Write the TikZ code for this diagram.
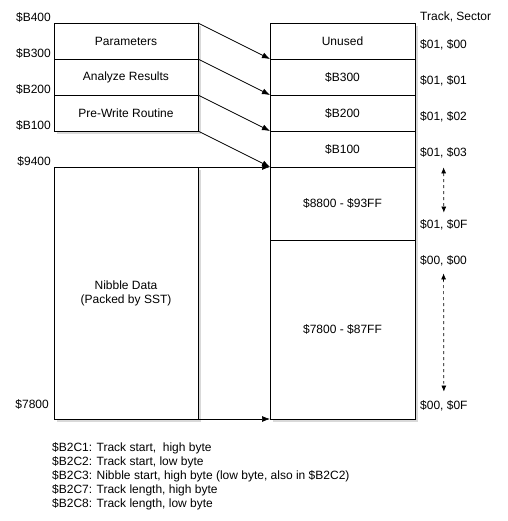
\documentclass[tikz,border=0pt]{standalone}
\usepackage{fontspec}
\setmainfont{Liberation Sans}
\usepackage{tikz}
\usetikzlibrary{arrows, arrows.meta, positioning, shadows}

\tikzset{
  blk/.style={draw, line width=0.9pt, fill=white, rectangle, inner sep=0pt, outer sep=0pt,
    minimum height=36pt, align=center,
    drop shadow={opacity=0.3, shadow xshift=3pt, shadow yshift=-3pt}},
  lblk/.style={blk, minimum width=144pt},
  rblk/.style={blk, minimum width=145pt},
  addr/.style={inner sep=0pt, anchor=east},
  ts/.style={inner sep=0pt, anchor=west},
  lnk/.style={-{Latex[length=8pt, width=6pt]}, line width=0.7pt},
  span/.style={{Latex[length=6pt, width=5pt]}-{Latex[length=6pt, width=5pt]}, dashed, line width=0.7pt},
}

\begin{document}
\fontsize{12}{14}\selectfont
\begin{tikzpicture}[x=1pt, y=-1pt]
      \useasboundingbox (0,0) rectangle (507,521);

      %% left column
      \node (params) at (126,41) [lblk] {Parameters};
      \node (analyze) [lblk, below=0pt of params] {Analyze Results};
      \node (prewrite) [lblk, below=0pt of analyze] {Pre-Write Routine};
      \node (nibble) [lblk, minimum height=252pt, below=36pt of prewrite] {Nibble Data\\(Packed by SST)};

      %% right column
      \node (unused) at (342.5,41) [rblk] {Unused};
      \node (sb300) [rblk, below=0pt of unused] {\$B300};
      \node (sb200) [rblk, below=0pt of sb300] {\$B200};
      \node (sb100) [rblk, below=0pt of sb200] {\$B100};
      \node (s8800) [rblk, minimum height=73pt, below=0pt of sb100] {\$8800 - \$93FF};
      \node (s7800) [rblk, minimum height=179pt, below=0pt of s8800] {\$7800 - \$87FF};

      %% addresses
      \node (aB400) at (51,17) [addr] {\$B400};
      \node (aB300) at (51,53) [addr] {\$B300};
      \node (aB200) at (51,89) [addr] {\$B200};
      \node (aB100) at (51,125) [addr] {\$B100};
      \node (a9400) at (51,161) [addr] {\$9400};
      \node (a7800) at (49,404) [addr] {\$7800};

      %% track, sector
      \node (tshead) at (420,17) [ts] {Track, Sector};
      \node (t0100) at (420,45) [ts] {\$01, \$00};
      \node (t0101) at (420,81) [ts] {\$01, \$01};
      \node (t0102) at (420,117) [ts] {\$01, \$02};
      \node (t0103) at (420,153) [ts] {\$01, \$03};
      \node (t010F) at (420,225) [ts] {\$01, \$0F};
      \node (t0000) at (420,261) [ts] {\$00, \$00};
      \node (t000F) at (420,406) [ts] {\$00, \$0F};

      \node (notes) at (52,442) [inner sep=0pt, anchor=north west, align=left]
        {\$B2C1: Track start,\ \ high byte\\
         \$B2C2: Track start, low byte\\
         \$B2C3: Nibble start, high byte (low byte, also in \$B2C2)\\
         \$B2C7: Track length, high byte\\
         \$B2C8: Track length, low byte};

      \draw[lnk] (params.north east) -- (sb300.north west);
      \draw[lnk] (analyze.north east) -- (sb200.north west);
      \draw[lnk] (prewrite.north east) -- (sb100.north west);
      \draw[lnk] (prewrite.south east) -- (s8800.north west);
      \draw[lnk] (nibble.north east) -- (s8800.north west);
      \draw[lnk] (nibble.south east) -- (s7800.south west);

      \draw[span, shorten <=9pt, shorten >=7pt] (t0103.south) -- (t010F.north);
      \draw[span, shorten <=7pt, shorten >=9pt] (t0000.south) -- (t000F.north);

    \end{tikzpicture}
\end{document}
